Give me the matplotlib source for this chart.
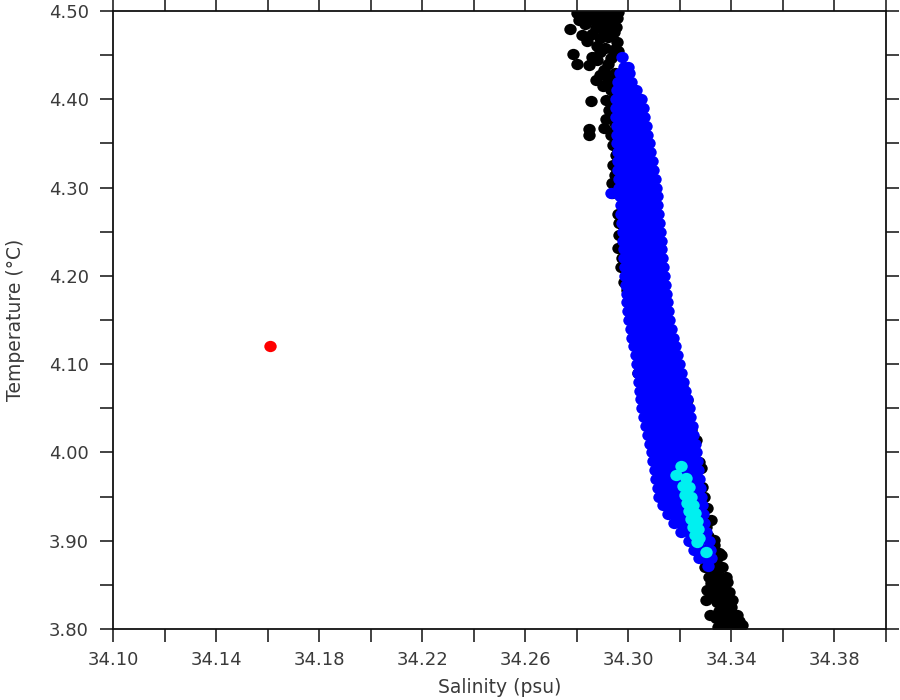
import matplotlib

matplotlib.use("Agg")
import matplotlib.pyplot as plt
import numpy as np
from matplotlib.path import Path

# T-S diagram: salinity (psu) vs temperature (degC), four groups of casts

# black: full profile points (only partly visible behind the blue cloud)
black_sal = [
    34.2801, 34.2828, 34.2855, 34.2886, 34.2917, 34.2945, 34.2809, 34.2848,
    34.2886, 34.2925, 34.2956, 34.2774, 34.2832, 34.2821, 34.2875, 34.2890,
    34.2945, 34.2952, 34.2786, 34.2801, 34.2848, 34.2890, 34.2910, 34.2933,
    34.2956, 34.2906, 34.2875, 34.2921, 34.2933, 34.2914, 34.2855, 34.2925,
    34.2941, 34.2848, 34.2848, 34.2906, 34.2933, 34.2948, 34.2941, 34.2952,
    34.2941, 34.2948, 34.2937, 34.2937, 34.2870, 34.2900, 34.2930, 34.2905,
    34.2860, 34.2920, 34.2880, 34.2940, 34.2860, 34.2920, 34.2950, 34.2890,
    34.2940, 34.2900, 34.2950, 34.2935, 34.2955, 34.2915, 34.2950, 34.2955,
    34.2955, 34.2958, 34.2955, 34.2835, 34.2900, 34.2960, 34.2915, 34.2840,
    34.2960, 34.2880,
    34.2964, 34.2960, 34.2972, 34.2983, 34.2995, 34.3030, 34.3038, 34.2960,
    34.2965, 34.2975,
    34.3000, 34.3020, 34.3050, 34.3100, 34.3160, 34.3220,
    34.3208, 34.3228, 34.3243, 34.3262, 34.3274, 34.3282, 34.3286, 34.3305,
    34.3320, 34.3332, 34.3352, 34.3363, 34.3379, 34.3295, 34.3300, 34.3310,
    34.3332, 34.3359, 34.3383, 34.3390, 34.3402, 34.3421, 34.3441, 34.3379,
    34.3363, 34.3316, 34.3301, 34.3305, 34.3313, 34.3320, 34.3340, 34.3344,
    34.3379, 34.3398, 34.3410, 34.3371, 34.3359, 34.3348, 34.3420, 34.3395,
    34.3430, 34.3350, 34.3385, 34.3330, 34.3370, 34.3350, 34.3320, 34.3340,
    34.3310, 34.3300, 34.3400, 34.3360, 34.3330, 34.3355, 34.3325, 34.3360,
    34.3345, 34.3390, 34.3340, 34.3370, 34.3415, 34.3320, 34.3297,
]
black_temp = [
    4.4977, 4.4977, 4.4955, 4.4966, 4.4977, 4.4955, 4.4898, 4.4898,
    4.4875, 4.4887, 4.4921, 4.4796, 4.4853, 4.4728, 4.4807, 4.4694,
    4.4762, 4.4819, 4.4513, 4.4400, 4.4388, 4.4536, 4.4581, 4.4468,
    4.4649, 4.4332, 4.4219, 4.4241, 4.4105, 4.3992, 4.3981, 4.3879,
    4.3788, 4.3664, 4.3596, 4.3675, 4.3596, 4.3652, 4.3482, 4.3369,
    4.3256, 4.3143, 4.3052, 4.2939, 4.4920, 4.4930, 4.4850, 4.4780,
    4.4740, 4.4700, 4.4600, 4.4560, 4.4480, 4.4400, 4.4300, 4.4280,
    4.4200, 4.4150, 4.4050, 4.3950, 4.3850, 4.3780, 4.3730, 4.3550,
    4.3450, 4.3300, 4.3200, 4.4940, 4.4990, 4.4990, 4.4720, 4.4660,
    4.4550, 4.4450,
    4.2463, 4.2316, 4.2101, 4.1931, 4.1840, 4.1444, 4.0900, 4.2700,
    4.2600, 4.2200,
    4.40, 4.30, 4.20, 4.10, 4.00, 3.92,
    4.0742, 4.0595, 4.0255, 4.0142, 3.9892, 3.9824, 3.9609, 3.9371,
    3.9236, 3.9009, 3.8862, 3.8703, 3.8590, 3.9500, 3.9150, 3.9050,
    3.8952, 3.8839, 3.8533, 3.8420, 3.8330, 3.8160, 3.8047, 3.8047,
    3.8137, 3.8160, 3.8330, 3.8443, 3.8590, 3.8703, 3.8635, 3.8477,
    3.8364, 3.8250, 3.8160, 3.8250, 3.8352, 3.8020, 3.7990, 3.8100,
    3.8090, 3.8200, 3.8290, 3.8400, 3.8460, 3.8560, 3.8520, 3.8760,
    3.8800, 3.8900, 3.8030, 3.8070, 3.8650, 3.8580, 3.8480, 3.8400,
    3.8310, 3.8200, 3.8120, 3.8090, 3.8050, 3.8600, 3.8700,
]

# blue: dense cloud, one temperature row at a time
blue_temp = [
    4.448, 4.437, 4.43, 4.42, 4.41, 4.40, 4.39, 4.38, 4.37, 4.36, 4.35,
    4.34, 4.33, 4.32, 4.31, 4.30, 4.29, 4.28, 4.27, 4.26, 4.25, 4.24,
    4.23, 4.22, 4.21, 4.20, 4.19, 4.18, 4.17, 4.16, 4.15, 4.14, 4.13,
    4.12, 4.11, 4.10, 4.09, 4.08, 4.07, 4.06, 4.05, 4.04, 4.03, 4.02,
    4.01, 4.00, 3.99, 3.98, 3.97, 3.96, 3.95, 3.94, 3.93, 3.92, 3.91,
    3.90, 3.89, 3.88, 3.8715,
]
blue_sal = [
    [34.2977],
    [34.2985, 34.2997],
    [34.2968, 34.2985, 34.3002],
    [34.2958, 34.2976, 34.2994, 34.3012],
    [34.2955, 34.2974, 34.2993, 34.3012, 34.3030],
    [34.2952, 34.2971, 34.2990, 34.3010, 34.3030, 34.3049],
    [34.2953, 34.2970, 34.2987, 34.3004, 34.3021, 34.3038, 34.3055],
    [34.2954, 34.2972, 34.2990, 34.3008, 34.3026, 34.3044, 34.3062],
    [34.2955, 34.2974, 34.2993, 34.3012, 34.3030, 34.3049, 34.3068],
    [34.2956, 34.2976, 34.2995, 34.3015, 34.3035, 34.3054, 34.3074],
    [34.2957, 34.2978, 34.2998, 34.3019, 34.3039, 34.3060, 34.3080],
    [34.2958, 34.2979, 34.3001, 34.3022, 34.3043, 34.3065, 34.3086],
    [34.2960, 34.2982, 34.3004, 34.3026, 34.3048, 34.3070, 34.3092],
    [34.2961, 34.2984, 34.3006, 34.3029, 34.3052, 34.3074, 34.3097],
    [34.2962, 34.2985, 34.3009, 34.3032, 34.3055, 34.3079, 34.3102],
    [34.2964, 34.2988, 34.3012, 34.3036, 34.3059, 34.3083, 34.3107],
    [34.2967, 34.2991, 34.3015, 34.3039, 34.3062, 34.3086, 34.3110],
    [34.2970, 34.2994, 34.3018, 34.3042, 34.3065, 34.3089, 34.3113],
    [34.2973, 34.2997, 34.3021, 34.3045, 34.3068, 34.3092, 34.3116],
    [34.2976, 34.3000, 34.3024, 34.3048, 34.3071, 34.3095, 34.3119],
    [34.2979, 34.3003, 34.3027, 34.3051, 34.3074, 34.3098, 34.3122],
    [34.2981, 34.3005, 34.3029, 34.3053, 34.3077, 34.3101, 34.3125],
    [34.2982, 34.3006, 34.3031, 34.3055, 34.3079, 34.3104, 34.3128],
    [34.2984, 34.3008, 34.3033, 34.3058, 34.3082, 34.3107, 34.3131],
    [34.2986, 34.3011, 34.3035, 34.3060, 34.3085, 34.3109, 34.3134],
    [34.2987, 34.3012, 34.3037, 34.3062, 34.3087, 34.3112, 34.3137],
    [34.2990, 34.3015, 34.3040, 34.3066, 34.3091, 34.3116, 34.3141],
    [34.2993, 34.3018, 34.3044, 34.3069, 34.3094, 34.3120, 34.3145],
    [34.2996, 34.3021, 34.3047, 34.3072, 34.3098, 34.3123, 34.3149],
    [34.3000, 34.3022, 34.3044, 34.3066, 34.3087, 34.3109, 34.3131, 34.3153],
    [34.3003, 34.3025, 34.3047, 34.3069, 34.3091, 34.3113, 34.3135, 34.3157],
    [34.3009, 34.3031, 34.3054, 34.3076, 34.3098, 34.3121, 34.3143, 34.3165],
    [34.3015, 34.3038, 34.3060, 34.3083, 34.3105, 34.3128, 34.3150, 34.3173],
    [34.3022, 34.3045, 34.3067, 34.3090, 34.3112, 34.3135, 34.3157, 34.3180],
    [34.3028, 34.3051, 34.3074, 34.3097, 34.3119, 34.3142, 34.3165, 34.3188],
    [34.3034, 34.3057, 34.3080, 34.3103, 34.3127, 34.3150, 34.3173, 34.3196],
    [34.3038, 34.3062, 34.3085, 34.3109, 34.3133, 34.3157, 34.3180, 34.3204],
    [34.3042, 34.3066, 34.3091, 34.3115, 34.3139, 34.3164, 34.3188, 34.3212],
    [34.3045, 34.3070, 34.3095, 34.3120, 34.3145, 34.3170, 34.3195, 34.3220],
    [34.3049, 34.3075, 34.3100, 34.3126, 34.3151, 34.3177, 34.3202, 34.3228],
    [34.3053, 34.3079, 34.3105, 34.3131, 34.3157, 34.3183, 34.3209, 34.3235],
    [34.3061, 34.3087, 34.3112, 34.3138, 34.3163, 34.3189, 34.3214, 34.3240],
    [34.3069, 34.3094, 34.3120, 34.3145, 34.3170, 34.3195, 34.3221, 34.3246],
    [34.3076, 34.3101, 34.3126, 34.3151, 34.3176, 34.3201, 34.3226, 34.3251],
    [34.3084, 34.3109, 34.3133, 34.3158, 34.3183, 34.3208, 34.3232, 34.3257],
    [34.3092, 34.3116, 34.3141, 34.3165, 34.3189, 34.3213, 34.3238, 34.3262],
    [34.3097, 34.3121, 34.3145, 34.3169, 34.3194, 34.3218, 34.3242, 34.3266],
    [34.3103, 34.3127, 34.3151, 34.3175, 34.3198, 34.3222, 34.3246, 34.3270],
    [34.3108, 34.3132, 34.3155, 34.3179, 34.3203, 34.3227, 34.3250, 34.3274],
    [34.3114, 34.3137, 34.3161, 34.3184, 34.3208, 34.3231, 34.3255, 34.3278],
    [34.3119, 34.3142, 34.3165, 34.3189, 34.3212, 34.3235, 34.3259, 34.3282],
    [34.3135, 34.3160, 34.3185, 34.3210, 34.3235, 34.3260, 34.3285],
    [34.3155, 34.3182, 34.3209, 34.3235, 34.3262, 34.3289],
    [34.3177, 34.3206, 34.3235, 34.3264, 34.3293],
    [34.3205, 34.3237, 34.3270, 34.3302],
    [34.3235, 34.3274, 34.3312],
    [34.3255, 34.3285, 34.3316],
    [34.3274, 34.3297, 34.3320],
    [34.3308],
]
# a couple of blue strays left of the cloud
blue_extra_sal = [34.2933, 34.3010]
blue_extra_temp = [4.2939, 4.1534]

# cyan: narrow streak near the bottom of the cloud
cyan_sal = [
    34.3204, 34.3185, 34.3224, 34.3212, 34.3235, 34.3220, 34.3243, 34.3228,
    34.3251, 34.3235, 34.3259, 34.3243, 34.3266, 34.3251, 34.3270, 34.3259,
    34.3274, 34.3266, 34.3301,
]
cyan_temp = [
    3.9847, 3.9745, 3.9711, 3.9621, 3.9609, 3.9519, 3.9496, 3.9428,
    3.9406, 3.9338, 3.9315, 3.9247, 3.9224, 3.9156, 3.9134, 3.9066,
    3.9032, 3.8986, 3.8873,
]

# red: single isolated sample
red_sal = [34.161]
red_temp = [4.120]

x_ticks = [34.10, 34.12, 34.14, 34.16, 34.18, 34.20, 34.22, 34.24,
           34.26, 34.28, 34.30, 34.32, 34.34, 34.36, 34.38, 34.40]
x_tick_labels = ["34.10", "", "34.14", "", "34.18", "", "34.22", "",
                 "34.26", "", "34.30", "", "34.34", "", "34.38", ""]
y_ticks = [3.80, 3.85, 3.90, 3.95, 4.00, 4.05, 4.10, 4.15,
           4.20, 4.25, 4.30, 4.35, 4.40, 4.45, 4.50]
y_tick_labels = ["3.80", "", "3.90", "", "4.00", "", "4.10", "",
                 "4.20", "", "4.30", "", "4.40", "", "4.50"]

TEXT_COLOR = "#3a3a3a"
DOT_SIZE = 80
FONT_SIZE = 13


def flatten_rows(temps, rows):
    """Turn per-row salinity lists into flat (sal, temp) lists."""
    sal, temp = [], []
    for t, row in zip(temps, rows):
        for s in row:
            sal.append(s)
            temp.append(t)
    return sal, temp


def oval_marker(aspect=1.1):
    """Slightly flattened dot, like the plotting program's default symbol."""
    circle = Path.unit_circle()
    verts = circle.vertices * np.array([aspect, 1.0])
    return Path(verts, circle.codes)


def main() -> None:
    fig = plt.figure(figsize=(9, 7), dpi=100)
    ax = fig.add_axes([113 / 900, 71 / 700, 773 / 900, 618 / 700])

    blue_s, blue_t = flatten_rows(blue_temp, blue_sal)
    blue_s += blue_extra_sal
    blue_t += blue_extra_temp

    dot = oval_marker()
    ax.scatter(black_sal, black_temp, s=DOT_SIZE, marker=dot, color="black",
               linewidths=0)
    ax.scatter(blue_s, blue_t, s=DOT_SIZE, marker=dot, color="#0000ff",
               linewidths=0)
    ax.scatter(cyan_sal, cyan_temp, s=DOT_SIZE, marker=dot, color="#00f0f0",
               linewidths=0)
    ax.scatter(red_sal, red_temp, s=DOT_SIZE, marker=dot, color="#ff0000",
               linewidths=0)

    ax.set_xlim(34.10, 34.40)
    ax.set_ylim(3.80, 4.50)
    ax.set_xticks(x_ticks)
    ax.set_xticklabels(x_tick_labels)
    ax.set_yticks(y_ticks)
    ax.set_yticklabels(y_tick_labels)

    ax.tick_params(direction="out", length=9.5, width=1.2, color="#222222",
                   top=True, right=True, labelsize=FONT_SIZE,
                   labelcolor=TEXT_COLOR)
    ax.tick_params(axis="x", pad=6)
    ax.tick_params(axis="y", pad=8)
    for spine in ax.spines.values():
        spine.set_linewidth(1.3)
        spine.set_color("#111111")

    ax.set_xlabel("Salinity (psu)", fontsize=FONT_SIZE + 0.5,
                  color=TEXT_COLOR, labelpad=7)
    ax.set_ylabel("Temperature (°C)", fontsize=FONT_SIZE + 0.5,
                  color=TEXT_COLOR, labelpad=17)

    fig.savefig("out.png", dpi=100)


if __name__ == "__main__":
    main()
